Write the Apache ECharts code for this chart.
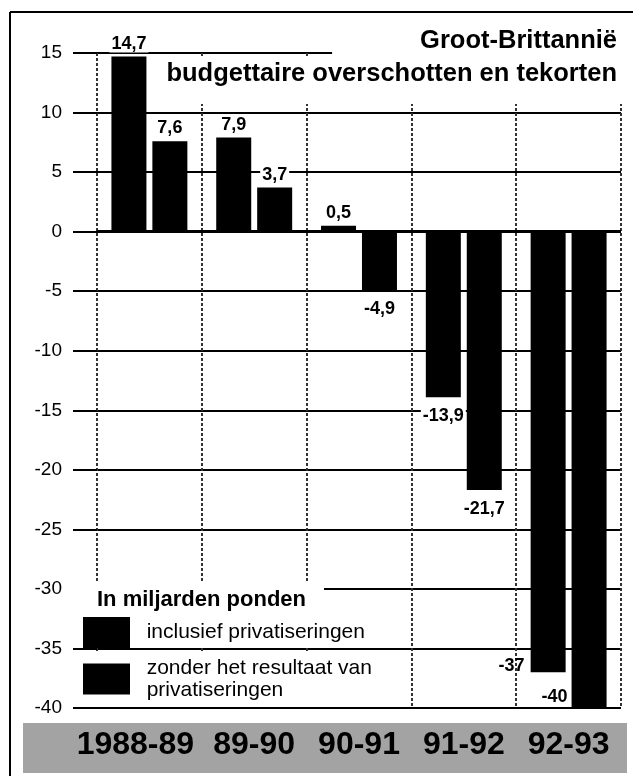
<!DOCTYPE html>
<html>
<head>
<meta charset="utf-8">
<title>Groot-Brittannië budgettaire overschotten en tekorten</title>
<script src="https://cdn.jsdelivr.net/npm/echarts@6/dist/echarts.min.js"></script>
<style>
  html, body { margin: 0; padding: 0; background: #fff; }
  #chart { width: 635px; height: 781px; }
</style>
</head>
<body>
<div id="chart"></div>
<script>
// begrotingssaldo in miljarden ponden
const years = ['1988-89', '89-90', '90-91', '91-92', '92-93']
const inclusief = [14.7, 7.9, 0.5, -13.9, -37]
const zonder = [7.6, 3.7, -4.9, -21.7, -40]
const yMin = -40
const yMax = 15
const yStep = 5

const nameIncl = 'inclusief privatiseringen'
const nameZonder = 'zonder het resultaat van privatiseringen'

const sans = '"Liberation Sans", Arial, sans-serif'

function fmt(v) {
  return String(v).replace('.', ',')
}

// last bar of each series gets its label beside the bar foot
function sideLabel(dx, dy) {
  return {
    position: [dx, '100%'],
    align: 'right',
    verticalAlign: 'bottom',
    offset: [0, dy],
    backgroundColor: 'transparent',
  }
}

function toData(values, lastLabel) {
  return values.map((v, i) => {
    if (i === values.length - 1)
      return { value: v, label: lastLabel }
    if (v >= 0)
      return { value: v, label: { position: 'top', distance: 4 } }
    return { value: v, label: { position: 'bottom', distance: 9 } }
  })
}

// the long first year label sits a bit left of its column
const yearLabels = years.map((y, i) => i === 0
  ? { value: y, textStyle: { padding: [0, 28, 0, 0] } }
  : y)

const barLabel = {
  show: true,
  color: '#000',
  fontFamily: sans,
  fontSize: 18,
  fontWeight: 'bold',
  backgroundColor: '#fff',
  padding: [1, 2, 0, 2],
  formatter: p => fmt(p.value),
}

const chart = echarts.init(document.getElementById('chart'), null, { renderer: 'canvas' })

chart.setOption({
  animation: false,
  backgroundColor: '#fff',
  title: [
    {
      text: 'Groot-Brittannië',
      right: 10,
      top: 23,
      backgroundColor: '#fff',
      padding: [3, 8, 3, 88],
      textStyle: { fontFamily: sans, fontSize: 25.5, fontWeight: 'bold', lineHeight: 29, color: '#000' },
    },
    {
      text: 'budgettaire overschotten en tekorten',
      right: 10,
      top: 57,
      backgroundColor: '#fff',
      padding: [2, 8, 16, 8],
      textStyle: { fontFamily: sans, fontSize: 25.5, fontWeight: 'bold', lineHeight: 29, color: '#000' },
    },
    {
      text: 'In miljarden ponden',
      left: 73,
      top: 582,
      backgroundColor: '#fff',
      padding: [6, 18, 4, 24],
      textStyle: { fontFamily: sans, fontSize: 22, fontWeight: 'bold', lineHeight: 23, color: '#000' },
    },
  ],
  legend: [
    {
      data: [nameIncl],
      left: 80,
      top: 611,
      padding: [6, 14, 0, 3],
      backgroundColor: '#fff',
      icon: 'rect',
      itemWidth: 47,
      itemHeight: 31,
      selectedMode: false,
      formatter: () => '  inclusief privatiseringen',
      textStyle: { fontFamily: sans, fontSize: 21, color: '#000' },
    },
    {
      data: [nameZonder],
      left: 80,
      top: 652,
      padding: [0, 14, 0, 3],
      backgroundColor: '#fff',
      icon: 'rect',
      itemWidth: 47,
      itemHeight: 31,
      selectedMode: false,
      formatter: () => '  zonder het resultaat van\n  privatiseringen',
      textStyle: { fontFamily: sans, fontSize: 21, lineHeight: 22, color: '#000', padding: [10, 0, 0, 0] },
    },
  ],
  graphic: [
    {
      type: 'rect',
      z: -10,
      shape: { x: 23, y: 723, width: 604, height: 50 },
      style: { fill: '#a3a3a3' },
    },
    {
      type: 'line',
      shape: { x1: 10, y1: 12, x2: 633, y2: 12 },
      style: { stroke: '#000', lineWidth: 2 },
    },
    {
      type: 'line',
      shape: { x1: 10, y1: 12, x2: 10, y2: 776 },
      style: { stroke: '#000', lineWidth: 2 },
    },
  ],
  grid: {
    left: 97,
    right: 14,
    top: 53,
    bottom: 73,
  },
  xAxis: {
    type: 'category',
    data: yearLabels,
    axisLine: { show: false },
    axisTick: { show: false },
    splitLine: {
      show: true,
      lineStyle: { color: '#333', width: 2, type: [3, 2] },
    },
    axisLabel: {
      interval: 0,
      margin: 21,
      color: '#000',
      fontFamily: sans,
      fontSize: 32,
      fontWeight: 'bold',
    },
  },
  yAxis: {
    type: 'value',
    min: yMin,
    max: yMax,
    interval: yStep,
    axisLine: { show: false },
    axisTick: { show: true, length: 24, lineStyle: { color: '#000', width: 2 } },
    splitLine: { lineStyle: { color: '#000', width: 2 } },
    axisLabel: {
      margin: 35,
      color: '#000',
      fontFamily: sans,
      fontSize: 19,
    },
  },
  series: [
    {
      name: nameIncl,
      type: 'bar',
      barWidth: 35,
      barGap: '17%',
      itemStyle: { color: '#000' },
      label: barLabel,
      data: toData(inclusief, sideLabel(-4, 3)),
      markLine: {
        silent: true,
        symbol: 'none',
        label: { show: false },
        lineStyle: { color: '#000', width: 3, type: 'solid' },
        data: [{ yAxis: 0 }],
      },
    },
    {
      name: nameZonder,
      type: 'bar',
      barWidth: 35,
      barGap: '17%',
      itemStyle: { color: '#000' },
      label: barLabel,
      data: toData(zonder, sideLabel(-2, -2)),
    },
  ],
})
</script>
</body>
</html>
